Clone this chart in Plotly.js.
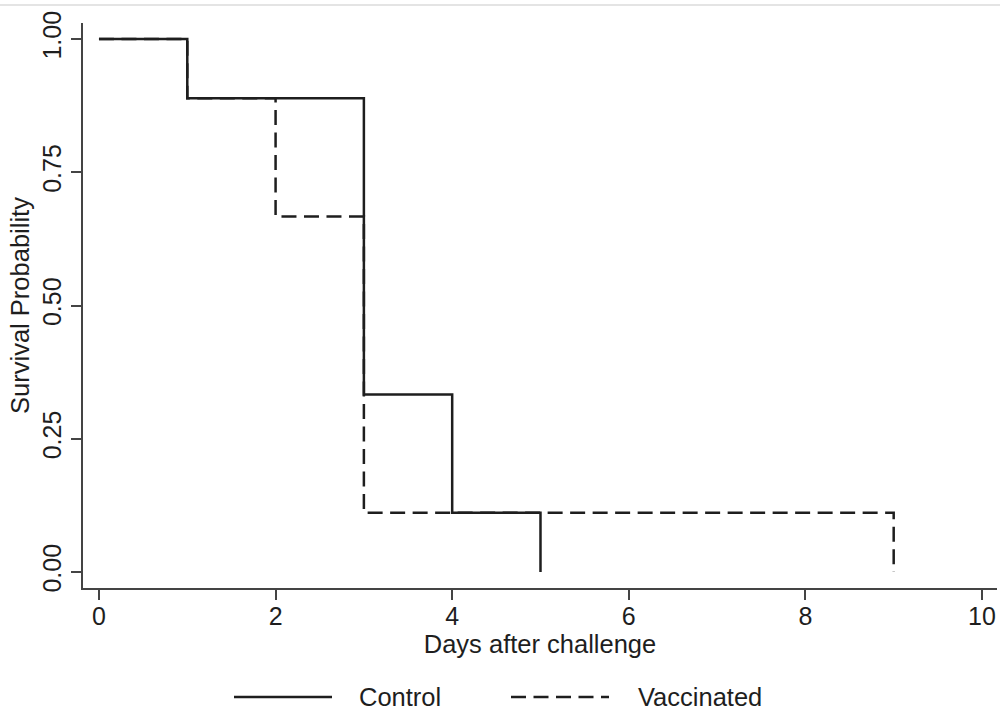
<!DOCTYPE html>
<html>
<head>
<meta charset="utf-8">
<script src="https://cdn.plot.ly/plotly-3.0.1.min.js"></script>
<style>html,body{margin:0;padding:0;background:#fff;}#chart{width:1000px;height:712px;}</style>
</head>
<body>
<div id="chart"></div>
<script>
// Kaplan-Meier step data (change points)
const controlDays = [0, 1, 3, 4, 5];
const controlSurv = [1.0, 0.889, 0.333, 0.111, 0.0];
const vaccDays = [0, 1, 2, 3, 9];
const vaccSurv = [1.0, 0.889, 0.667, 0.111, 0.0];
const seriesNames = ["Control", "Vaccinated"];
const xTicks = [0, 2, 4, 6, 8, 10];
const yTicks = [0, 0.25, 0.5, 0.75, 1.0];
const yTickText = ["0.00", "0.25", "0.50", "0.75", "1.00"];

const ink = "#1e1e1e";
const font = "Liberation Sans, Arial, Helvetica, sans-serif";
const dashPat = "15px,7.5px";

const traces = [
  {x: vaccDays, y: vaccSurv, name: seriesNames[1], mode: "lines", line: {shape: "hv", color: ink, width: 2.5, dash: dashPat}, showlegend: false},
  {x: controlDays, y: controlSurv, name: seriesNames[0], mode: "lines", line: {shape: "hv", color: ink, width: 2.5}, showlegend: false}
];

// plot area geometry (px) used for paper-coordinate legend placement
const L = 83, R = 3, T = 23, B = 124, W = 1000, H = 712;
const pw = W - L - R, ph = H - T - B;
const px = v => (v - L) / pw;
const py = v => (H - B - v) / ph;

const legendY = 697;
const shapes = [
  {type: "line", xref: "paper", yref: "paper", x0: px(0), x1: px(1000), y0: py(5), y1: py(5), line: {color: "#e4e4e4", width: 2}},
  {type: "line", xref: "paper", yref: "paper", x0: px(234), x1: px(332), y0: py(legendY), y1: py(legendY), line: {color: ink, width: 2.5}},
  {type: "line", xref: "paper", yref: "paper", x0: px(511), x1: px(609), y0: py(legendY), y1: py(legendY), line: {color: ink, width: 2.5, dash: dashPat}}
];
const annotations = [
  {xref: "paper", yref: "paper", x: px(357), y: py(legendY), text: seriesNames[0], showarrow: false, xanchor: "left", yanchor: "middle", font: {family: font, size: 25.5, color: ink}},
  {xref: "paper", yref: "paper", x: px(636), y: py(legendY), text: seriesNames[1], showarrow: false, xanchor: "left", yanchor: "middle", font: {family: font, size: 25.5, color: ink}}
];

const layout = {
  width: W, height: H,
  margin: {l: L, r: R, t: T, b: B, pad: 0},
  paper_bgcolor: "#ffffff", plot_bgcolor: "#ffffff",
  font: {family: font, color: ink},
  showlegend: false,
  xaxis: {
    range: [-0.181, 10.17], tickvals: xTicks, ticks: "outside", ticklen: 10, tickwidth: 2, tickcolor: "#444",
    showline: true, linewidth: 2, linecolor: "#444", showgrid: false, zeroline: false,
    tickfont: {family: font, size: 25, color: ink}, ticklabelstandoff: -5,
    title: {text: "Days after challenge", font: {family: font, size: 25.5, color: ink}, standoff: 0},
    automargin: false
  },
  yaxis: {
    range: [-0.03, 1.03], tickvals: yTicks, ticktext: yTickText, tickangle: -90,
    ticks: "outside", ticklen: 10, tickwidth: 2, tickcolor: "#444",
    showline: true, linewidth: 2, linecolor: "#444", showgrid: false, zeroline: false,
    tickfont: {family: font, size: 25, color: ink},
    title: {text: "Survival Probability", font: {family: font, size: 25.5, color: ink}, standoff: 1},
    automargin: false
  },
  shapes: shapes,
  annotations: annotations
};

Plotly.newPlot("chart", traces, layout, {displayModeBar: false, staticPlot: true});
</script>
</body>
</html>
